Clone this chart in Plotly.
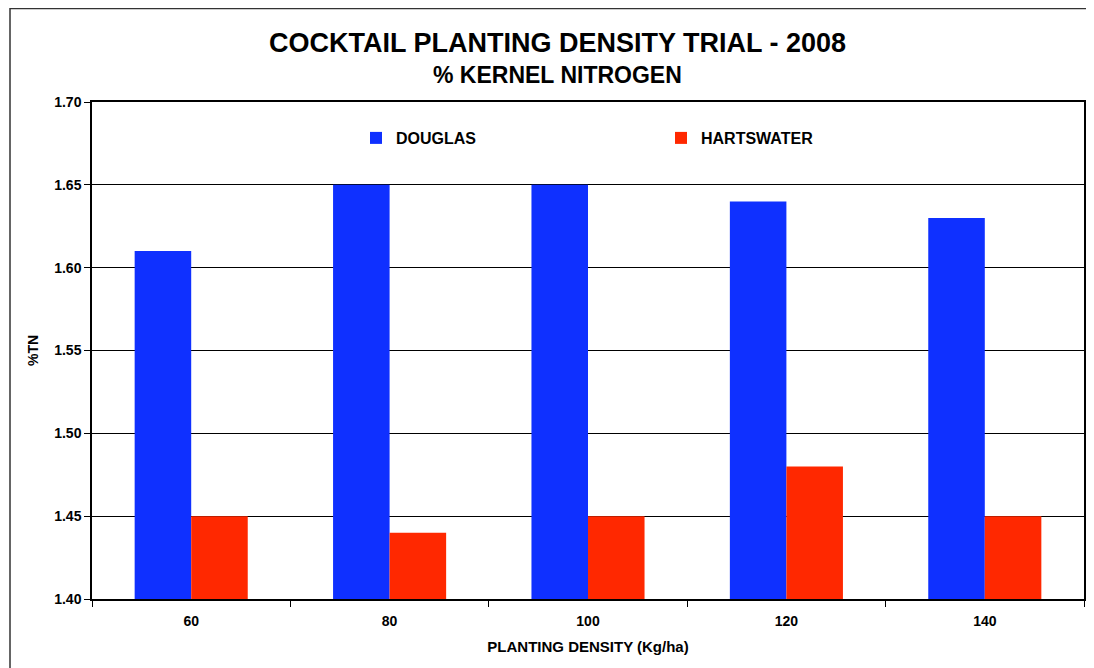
import plotly.graph_objects as go

categories = ["60", "80", "100", "120", "140"]
douglas = [1.61, 1.65, 1.65, 1.64, 1.63]
hartswater = [1.45, 1.44, 1.45, 1.48, 1.45]
y_ticks = [1.40, 1.45, 1.50, 1.55, 1.60, 1.65, 1.70]

FONT = "Liberation Sans, Arial, sans-serif"
OFF = 8  # page body offset
# target plot box in page pixels
PL, PR, PT, PB = 92, 1084, 102, 599
W, H = 1094, 668
pw, ph = PR - PL, PB - PT

def px_x(page_x):
    return (page_x - PL) / pw

def px_y(page_y):
    return (PB - page_y) / ph

fig = go.Figure()
fig.add_trace(go.Bar(name="DOUGLAS", x=categories, y=douglas, marker_color="#0F30FF", marker_line_width=0))
fig.add_trace(go.Bar(name="HARTSWATER", x=categories, y=hartswater, marker_color="#FF2800", marker_line_width=0))

bold = dict(family=FONT, color="black", weight="bold")

fig.update_layout(
    width=W, height=H,
    margin=dict(l=PL - OFF, r=W - (PR - OFF), t=PT - OFF, b=H - (PB - OFF)),
    paper_bgcolor="white", plot_bgcolor="white",
    barmode="group", bargap=0.43, bargroupgap=0,
    font=dict(family=FONT, color="black"),
    showlegend=True,
    legend=dict(
        orientation="h", x=px_x(356), xanchor="left", y=px_y(138), yanchor="middle",
        font=dict(size=16, **bold), entrywidth=260,
        bgcolor="rgba(0,0,0,0)", traceorder="normal",
    ),
    xaxis=dict(
        type="category", showgrid=False, showline=True, linecolor="black", linewidth=1.5, mirror=True,
        ticks="outside", tickson="boundaries", ticklen=6, tickcolor="black", tickwidth=1,
        ticklabelstandoff=8,
        tickfont=dict(size=14, **bold),
        title=dict(text="PLANTING DENSITY (Kg/ha)", font=dict(size=15, **bold), standoff=14),
    ),
    yaxis=dict(
        range=[1.40, 1.70], tickvals=y_ticks, ticktext=[f"{v:.2f}" for v in y_ticks],
        showgrid=True, gridcolor="black", gridwidth=1,
        showline=True, linecolor="black", linewidth=1.5, mirror=True,
        ticks="outside", ticklen=6, tickcolor="black", tickwidth=1,
        tickfont=dict(size=14, **bold),
        title=dict(text="%TN", font=dict(size=14, **bold), standoff=12),
        zeroline=False,
    ),
)

fig.add_annotation(text="COCKTAIL PLANTING DENSITY TRIAL - 2008", xref="paper", yref="paper",
                   x=px_x(557), y=px_y(43), xanchor="center", yanchor="middle", showarrow=False,
                   font=dict(size=27, **bold))
fig.add_annotation(text="% KERNEL NITROGEN", xref="paper", yref="paper",
                   x=px_x(557), y=px_y(75), xanchor="center", yanchor="middle", showarrow=False,
                   font=dict(size=23, **bold))

fig.add_shape(type="rect", xref="paper", yref="paper",
              x0=px_x(10), x1=px_x(1120), y0=px_y(700), y1=px_y(8.5),
              line=dict(color="#333333", width=1.5), fillcolor="rgba(0,0,0,0)", layer="below")

fig.write_html("out.html")
